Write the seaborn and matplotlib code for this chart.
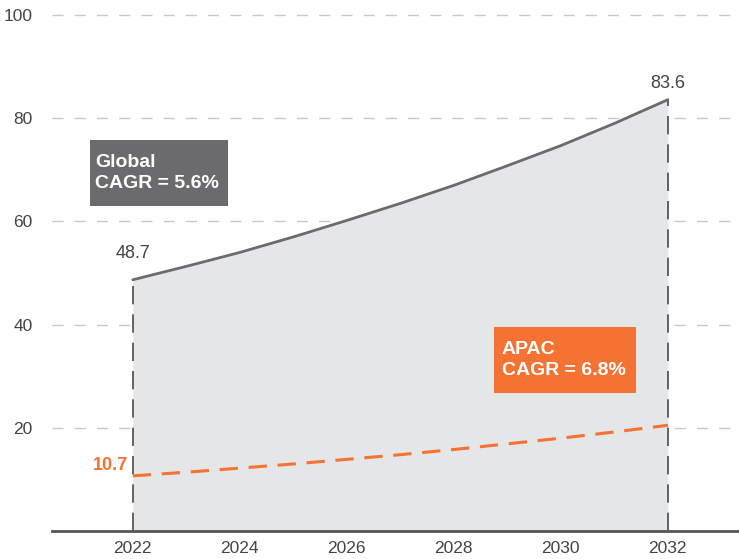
import numpy as np
import pandas as pd
import matplotlib
matplotlib.use("Agg")
import matplotlib.pyplot as plt
from matplotlib.patches import Rectangle
import seaborn as sns

# Data
years = [2022, 2023, 2024, 2025, 2026, 2027, 2028, 2029, 2030, 2031, 2032]
global_vals = [48.7, 51.3, 54.0, 57.0, 60.2, 63.5, 67.0, 70.8, 74.7, 79.0, 83.6]
apac_vals = [10.7, 11.4, 12.2, 13.0, 13.9, 14.8, 15.8, 16.9, 18.0, 19.2, 20.5]
x_ticks = [2022, 2024, 2026, 2028, 2030, 2032]
y_ticks = [20, 40, 60, 80, 100]

GRAY = "#6b6b6d"
ORANGE = "#f47232"
FILL = "#e5e6e8"

df = pd.DataFrame({"year": years, "global": global_vals, "apac": apac_vals})

sns.set_style("white")
plt.rcParams["font.family"] = ["Liberation Sans", "DejaVu Sans"]

fig = plt.figure(figsize=(7.39, 5.59), dpi=100)
ax = fig.add_axes([0.0704, 0.050, 0.9296, 0.9415])

# horizontal dashed grid
for y in y_ticks:
    ax.axhline(y, color="#c8c8c8", lw=1, dashes=(8, 8), zorder=0)

ax.fill_between(df["year"], 0, df["global"], color=FILL, zorder=1, lw=0)

sns.lineplot(data=df, x="year", y="global", color=GRAY, lw=2, ax=ax, zorder=3)
sns.lineplot(data=df, x="year", y="apac", color=ORANGE, lw=2.2, ax=ax, zorder=3,
             dashes=False, linestyle=(0, (6, 3.5)))

# vertical dashed markers at start and end
ax.vlines([years[0], years[-1]], 0, [global_vals[0], global_vals[-1]],
          colors="#4a4a4a", lw=1.2, linestyles=(0, (11, 6)), zorder=2)

# value labels
ax.text(years[0], global_vals[0] + 3.5, f"{global_vals[0]}", ha="center", va="bottom",
        fontsize=13, color="#444444")
ax.text(years[-1], global_vals[-1] + 1.4, f"{global_vals[-1]}", ha="center", va="bottom",
        fontsize=13, color="#444444")
ax.text(years[0] - 0.08, apac_vals[0] + 0.3, f"{apac_vals[0]}", ha="right", va="bottom",
        fontsize=13, color=ORANGE, fontweight="bold")

# CAGR boxes
ax.add_patch(Rectangle((2021.196, 63.0), 2.58, 12.8, fc=GRAY, ec="none", zorder=5))
ax.text(2021.29, 69.4, "Global\nCAGR = 5.6%", ha="left", va="center", fontsize=14,
        color="white", fontweight="bold", linespacing=1.3, zorder=6)
ax.add_patch(Rectangle((2028.748, 26.7), 2.65, 12.8, fc=ORANGE, ec="none", zorder=5))
ax.text(2028.90, 33.1, "APAC\nCAGR = 6.8%", ha="left", va="center", fontsize=14,
        color="white", fontweight="bold", linespacing=1.3, zorder=6)

ax.set_xlim(2020.49, 2033.33)
ax.set_ylim(0, 102)
ax.set_xticks(x_ticks)
ax.set_yticks(y_ticks)
ax.tick_params(axis="both", length=0, labelsize=12.5, labelcolor="#444444")
ax.tick_params(axis="x", pad=7)
ax.tick_params(axis="y", pad=14)
ax.set_xlabel("")
ax.set_ylabel("")
for s in ["top", "right", "left"]:
    ax.spines[s].set_visible(False)
ax.spines["bottom"].set_color("#555555")
ax.spines["bottom"].set_linewidth(2)

fig.savefig("out.png", dpi=100)
